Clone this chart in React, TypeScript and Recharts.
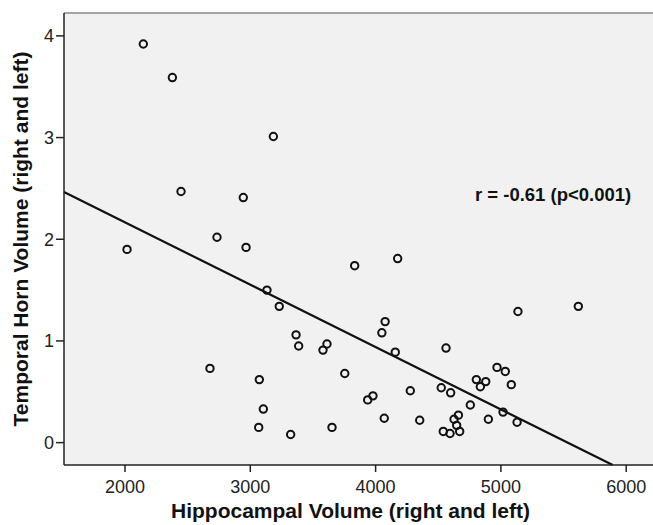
import React from 'react';
import {ScatterChart, Scatter, XAxis, YAxis, CartesianGrid, ReferenceLine, ReferenceDot} from 'recharts';

// values
const hippocampal = [2146, 2378, 3184, 2447, 2944, 2734, 2016, 2966, 3133, 3231, 3365, 3386, 3580, 3612, 2678, 3072, 3104, 3067, 3322, 3652, 3833, 4176, 5136, 5618, 4076, 4050, 4157, 4562, 3754, 4969, 5035, 4804, 4879, 4836, 5083, 4524, 4599, 4277, 3979, 3937, 4756, 5017, 4069, 4352, 4661, 4626, 4647, 4900, 5129, 4540, 4594, 4671];
const temporalHorn = [3.92, 3.59, 3.01, 2.47, 2.41, 2.02, 1.90, 1.92, 1.50, 1.34, 1.06, 0.95, 0.91, 0.97, 0.73, 0.62, 0.33, 0.15, 0.08, 0.15, 1.74, 1.81, 1.29, 1.34, 1.19, 1.08, 0.89, 0.93, 0.68, 0.74, 0.70, 0.62, 0.60, 0.55, 0.57, 0.54, 0.49, 0.51, 0.46, 0.42, 0.37, 0.30, 0.24, 0.22, 0.27, 0.23, 0.17, 0.23, 0.20, 0.11, 0.09, 0.11];

const xTicks = [2000, 3000, 4000, 5000, 6000];
const yTicks = [0, 1, 2, 3, 4];
const xDomain = [1513, 6214];
const yDomain = [-0.22, 4.225];

// fit line: y = intercept + slope * x
const intercept = 3.392;
const slope = -0.000613;
const annotation = 'r = -0.61 (p<0.001)';

const font = '"Liberation Sans", Arial, Helvetica, sans-serif';

const points = hippocampal.map((h, i) => ({x: h, y: temporalHorn[i]}));

const lineStart = {x: xDomain[0], y: intercept + slope * xDomain[0]};
const lineEnd = {x: (yDomain[0] - intercept) / slope, y: yDomain[0]};

const OpenCircle = (props: any) => (
    <circle cx={props.cx} cy={props.cy} r={3.7} fill="none" stroke="#111" strokeWidth={2} />
);

const App: React.FC = () => {
    return (
        <div style={{position: 'absolute', left: 0, top: 0, width: 653, height: 525, background: '#fff'}}>
            <ScatterChart width={653} height={525} margin={{top: 13, right: 0, bottom: 0, left: 0}}>
                <CartesianGrid horizontal={false} vertical={false} fill="#f1f1f1" />
                <XAxis
                    type="number"
                    dataKey="x"
                    domain={xDomain}
                    ticks={xTicks}
                    allowDataOverflow
                    height={60}
                    stroke="#222"
                    strokeWidth={1.5}
                    tickSize={7}
                    tickMargin={8}
                    tick={{fill: '#222', fontSize: 18, fontFamily: font}}
                    label={{
                        content: (p: any) => {
                            const vb = p.viewBox || {x: 64, y: 465, width: 589, height: 60};
                            return (
                                <text x={vb.x + vb.width / 2 - 8} y={vb.y + 53} textAnchor="middle"
                                      fontFamily={font} fontSize={21} fontWeight="bold" fill="#111">
                                    Hippocampal Volume (right and left)
                                </text>
                            );
                        }
                    }}
                />
                <YAxis
                    type="number"
                    dataKey="y"
                    domain={yDomain}
                    ticks={yTicks}
                    allowDataOverflow
                    width={64}
                    stroke="#222"
                    strokeWidth={1.5}
                    tickSize={8}
                    tickMargin={2}
                    tick={{fill: '#222', fontSize: 18, fontFamily: font}}
                    label={{
                        content: (p: any) => {
                            const vb = p.viewBox || {x: 0, y: 13, width: 64, height: 452};
                            const cx = vb.x + 28;
                            const cy = vb.y + vb.height / 2;
                            return (
                                <text x={cx} y={cy} textAnchor="middle" transform={`rotate(-90, ${cx}, ${cy})`}
                                      fontFamily={font} fontSize={21} fontWeight="bold" fill="#111">
                                    Temporal Horn Volume (right and left)
                                </text>
                            );
                        }
                    }}
                />
                <ReferenceLine y={yDomain[1]} stroke="#888" strokeWidth={1.5} />
                <ReferenceLine segment={[lineStart, lineEnd]} stroke="#111" strokeWidth={2.2} />
                <Scatter data={points} shape={OpenCircle} isAnimationActive={false} />
                <ReferenceDot
                    x={4793}
                    y={2.436}
                    r={0}
                    shape={(p: any) => (
                        <text x={p.cx} y={p.cy} dy="0.35em" textAnchor="start"
                              fontFamily={font} fontSize={18.5} fontWeight="bold" fill="#111">
                            {annotation}
                        </text>
                    )}
                />
            </ScatterChart>
        </div>
    );
};

export default App;
